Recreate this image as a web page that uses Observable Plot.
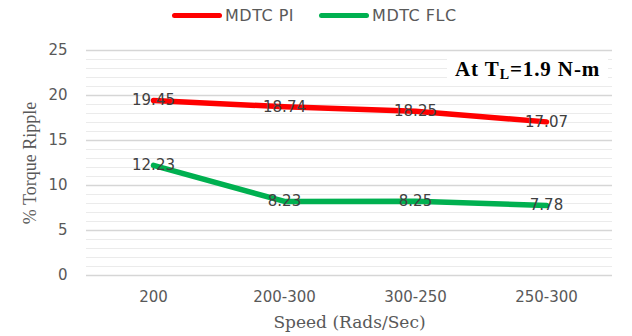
<!DOCTYPE html>
<html><head><meta charset="utf-8">
<script src="https://cdn.jsdelivr.net/npm/d3@7"></script>
<script src="https://cdn.jsdelivr.net/npm/@observablehq/plot@0.6"></script>
<style>
body{margin:0;background:#fff;width:632px;height:336px;overflow:hidden;position:relative;font-family:"DejaVu Sans",sans-serif;}
#legend{height:30px;display:flex;justify-content:flex-start;align-items:center;font-size:16px;letter-spacing:0.5px;color:#595959;padding-left:172px;box-sizing:border-box;}
.sw{display:inline-block;width:50px;height:5px;border-radius:3px;margin-right:3px;vertical-align:middle;}
.it{display:flex;align-items:center;margin-right:25px;}
#note{position:absolute;left:447px;top:56px;background:#fff;padding:1px 8px;font-family:"Liberation Serif",serif;font-weight:bold;font-size:21px;letter-spacing:0.9px;color:#000;line-height:24px;}
#note sub{font-size:14px;vertical-align:-3px;line-height:0;}
</style></head>
<body>
<div id="legend"></div>
<div id="chart"></div>
<div id="note">At T<sub>L</sub>=1.9 N-m</div>
<script>
const categories = ["200","200-300","300-250","250-300"];
const seriesNames = ["MDTC PI","MDTC FLC"];
const pi = [19.45, 18.74, 18.25, 17.07];
const flc = [12.23, 8.23, 8.25, 7.78];
const colors = ["#FF0000","#00B050"];
const yTicks = [0,5,10,15,20,25];
const minorTicks = d3.range(0,26,1).filter(v => v % 5 !== 0);

const data = [];
categories.forEach((c,i)=>{
  data.push({cat:c, v:pi[i], s:seriesNames[0]});
  data.push({cat:c, v:flc[i], s:seriesNames[1]});
});

const lg = document.getElementById("legend");
seriesNames.forEach((n,i)=>{
  const d = document.createElement("div"); d.className="it";
  d.innerHTML = `<span class="sw" style="background:${colors[i]}"></span>${n}`;
  lg.appendChild(d);
});

const chart = Plot.plot({
  width: 632, height: 306,
  marginLeft: 86, marginRight: 20, marginTop: 20, marginBottom: 61,
  style: {fontFamily: '"DejaVu Sans", sans-serif', fontSize: "15px", color: "#595959"},
  x: {type: "point", domain: categories, padding: 0.5, label: null},
  y: {domain: [0,25], label: null},
  color: {domain: seriesNames, range: colors},
  marks: [
    Plot.ruleY(minorTicks, {stroke: "#ebebeb", strokeWidth: 1}),
    Plot.ruleY(yTicks, {stroke: "#d6d6d6", strokeWidth: 1.3}),
    Plot.axisY({ticks: yTicks, tickSize: 0, tickPadding: 19, label: null, fill: "#595959", fontSize: 15}),
    Plot.axisX({tickSize: 0, tickPadding: 16, label: null, fill: "#595959", fontSize: 15}),
    Plot.line(data, {x: "cat", y: "v", z: "s", stroke: "s", strokeWidth: 5.5, strokeLinecap: "round"}),
    Plot.text(data, {x: "cat", y: "v", text: d => d.v.toFixed(2), fill: "#404040", fontSize: 15}),
    Plot.text(["Speed (Rads/Sec)"], {frameAnchor: "bottom", lineAnchor: "middle", dy: 47, text: d => d, fontFamily: '"DejaVu Serif", serif', fontSize: 17, fill: "#595959"}),
    Plot.text(["% Torque Ripple"], {frameAnchor: "left", lineAnchor: "middle", textAnchor: "middle", dx: -56, rotate: -90, text: d => d, fontFamily: '"Liberation Serif", serif', fontSize: 18, fill: "#595959"})
  ]
});
document.getElementById("chart").appendChild(chart);
</script>
</body></html>
